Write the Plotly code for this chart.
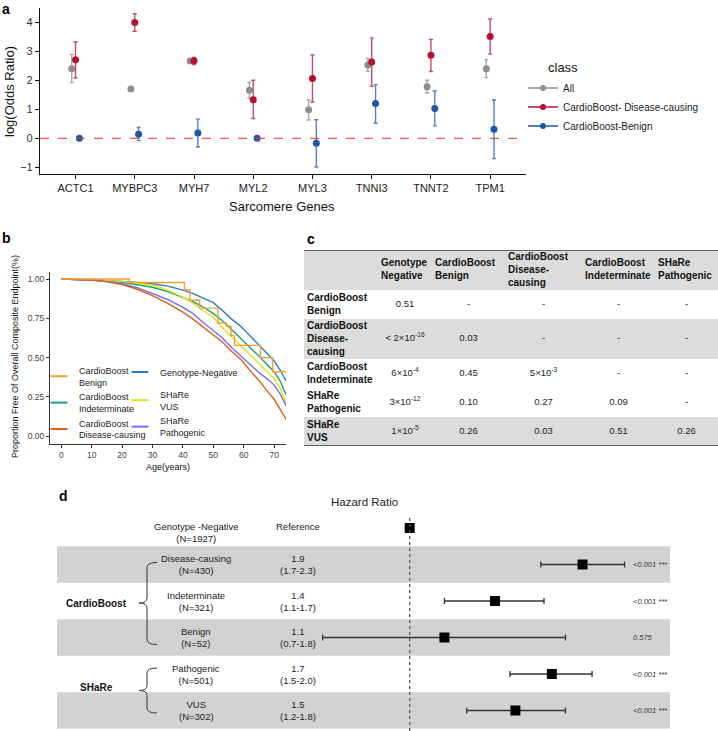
import plotly.graph_objects as go

W, H = 718, 731


def px(x):
    return x / W


def py(y):
    return 1 - y / H


FONT = "Liberation Sans, Arial, Helvetica, sans-serif"

# ======================= DATA =======================
# ---- Panel a: log(odds ratio) per sarcomere gene ----
genes = ["ACTC1", "MYBPC3", "MYH7", "MYL2", "MYL3", "TNNI3", "TNNT2", "TPM1"]
class_names = ["All", "CardioBoost- Disease-causing", "CardioBoost-Benign"]
or_all = [2.40, 1.70, 2.66, 1.66, 0.98, 2.53, 1.78, 2.40]
or_all_lo = [1.92, 1.65, 2.61, 1.38, 0.63, 2.31, 1.56, 2.09]
or_all_hi = [2.89, 1.75, 2.71, 1.93, 1.33, 2.75, 2.00, 2.71]
or_dc = [2.71, 3.99, 2.67, 1.33, 2.06, 2.63, 2.86, 3.51]
or_dc_lo = [2.08, 3.69, 2.54, 0.68, 1.25, 1.79, 2.30, 2.90]
or_dc_hi = [3.32, 4.29, 2.79, 2.00, 2.87, 3.46, 3.41, 4.11]
or_bn = [0.00, 0.14, 0.18, 0.00, -0.17, 1.20, 1.03, 0.31]
or_bn_lo = [0.00, -0.08, -0.29, 0.00, -0.99, 0.52, 0.43, -0.70]
or_bn_hi = [0.00, 0.37, 0.66, 0.00, 0.64, 1.85, 1.63, 1.32]
or_ticks = [-1, 0, 1, 2, 3, 4]

# ---- Panel b: Kaplan-Meier curves ----
km_labels = ["CardioBoost<br>Benign", "CardioBoost<br>Indeterminate", "CardioBoost<br>Disease-causing",
             "Genotype-Negative", "SHaRe<br>VUS", "SHaRe<br>Pathogenic"]
benign_age = [0, 22.4, 40.5, 42.3, 45.5, 51.5, 54.3, 55.8, 57.0, 65.5, 69.5, 74]
benign_surv = [1.0, 0.978, 0.932, 0.865, 0.815, 0.72, 0.70, 0.64, 0.578, 0.50, 0.41, 0.41]
age_grid = [0, 5, 10, 15, 20, 25, 30, 35, 40, 43, 46, 50, 53, 56, 59, 62, 65, 68, 70, 72, 74]
surv_neg = [1.0, 0.998, 0.995, 0.99, 0.985, 0.978, 0.97, 0.955, 0.93, 0.91, 0.885, 0.85, 0.80,
            0.745, 0.70, 0.64, 0.585, 0.52, 0.48, 0.42, 0.35]
surv_indet = [1.0, 0.998, 0.995, 0.99, 0.98, 0.965, 0.948, 0.92, 0.885, 0.86, 0.83, 0.78, 0.735,
              0.68, 0.62, 0.565, 0.51, 0.45, 0.41, 0.35, 0.26]
surv_vus = [1.0, 0.998, 0.995, 0.99, 0.985, 0.975, 0.962, 0.93, 0.885, 0.85, 0.81, 0.755, 0.69,
            0.63, 0.575, 0.52, 0.465, 0.405, 0.365, 0.305, 0.21]
surv_path = [1.0, 0.998, 0.994, 0.985, 0.97, 0.945, 0.91, 0.87, 0.82, 0.785, 0.735, 0.675, 0.625,
             0.565, 0.51, 0.46, 0.405, 0.36, 0.325, 0.27, 0.19]
surv_dc = [1.0, 0.998, 0.993, 0.982, 0.965, 0.935, 0.895, 0.845, 0.79, 0.75, 0.705, 0.65, 0.60,
           0.54, 0.49, 0.42, 0.355, 0.28, 0.235, 0.17, 0.105]
km_age_ticks = [0, 10, 20, 30, 40, 50, 60, 70]
km_surv_ticks = [0.0, 0.25, 0.5, 0.75, 1.0]

# ---- Panel c: pairwise p-values table ----
tbl_header = ["", "Genotype<br>Negative", "CardioBoost<br>Benign", "CardioBoost<br>Disease-<br>causing",
              "CardioBoost<br>Indeterminate", "SHaRe<br>Pathogenic"]
tbl_rows = ["CardioBoost<br>Benign", "CardioBoost<br>Disease-<br>causing", "CardioBoost<br>Indeterminate",
            "SHaRe<br>Pathogenic", "SHaRe<br>VUS"]
tbl_values = [
    ["0.51", "&lt; 2×10<sup>-16</sup>", "6×10<sup>-4</sup>", "3×10<sup>-12</sup>", "1×10<sup>-5</sup>"],
    ["-", "0.03", "0.45", "0.10", "0.26"],
    ["-", "-", "5×10<sup>-3</sup>", "0.27", "0.03"],
    ["-", "-", "-", "0.09", "0.51"],
    ["-", "-", "-", "-", "0.26"],
]

# ---- Panel d: hazard ratio forest plot ----
forest_groups = ["CardioBoost", "SHaRe"]
forest_levels = ["Genotype -Negative", "Disease-causing", "Indeterminate", "Benign", "Pathogenic", "VUS"]
forest_n = [1927, 430, 321, 52, 501, 302]
forest_hr = [1.0, 1.92, 1.38, 1.14, 1.71, 1.49]
forest_lo = [1.0, 1.64, 1.14, 0.72, 1.46, 1.24]
forest_hi = [1.0, 2.25, 1.66, 1.80, 1.99, 1.80]
forest_hr_text = ["Reference", "1.9<br>(1.7-2.3)", "1.4<br>(1.1-1.7)", "1.1<br>(0.7-1.8)",
                  "1.7<br>(1.5-2.0)", "1.5<br>(1.2-1.8)"]
forest_p = ["", "&lt;0.001 ***", "&lt;0.001 ***", "0.575", "&lt;0.001 ***", "&lt;0.001 ***"]

# ======================= STYLE =======================
A_COLORS = ["#8E8E8E", "#B5112F", "#1F57A8"]
A_ECOLORS = ["rgba(142,142,142,0.75)", "rgba(181,17,47,0.75)", "rgba(31,87,168,0.75)"]
A_DODGE = [-0.065, 0.0, 0.065]
KM_COLORS = ["#EEA030", "#1BA27A", "#DD5F1B", "#2B7CC0", "#E8DE1A", "#7A6BEA"]
KM_LEGEND = ["legend2", "legend2", "legend2", "legend3", "legend4", "legend4"]
TBL_COLW = [74, 54, 73, 77, 73, 63]
TBL_ROW_FILL = ["#FFFFFF", "#DCDCDC", "#FFFFFF", "#FFFFFF", "#DCDCDC"]
TBL_HDR_FILL = "#DCDCDC"
BAND_FILL = "#D2D2D2"

fig = go.Figure()

# ======================= PANEL a =======================
gene_pos = list(range(1, len(genes) + 1))
a_series = [(or_all, or_all_lo, or_all_hi), (or_dc, or_dc_lo, or_dc_hi), (or_bn, or_bn_lo, or_bn_hi)]
for k, (est, lo, hi) in enumerate(a_series):
    fig.add_trace(go.Scatter(
        x=[p + A_DODGE[k] for p in gene_pos], y=est, mode="markers",
        marker=dict(color=A_COLORS[k], size=7),
        error_y=dict(type="data", symmetric=False,
                     array=[h - e for h, e in zip(hi, est)],
                     arrayminus=[e - l for e, l in zip(est, lo)],
                     color=A_ECOLORS[k], thickness=1.4, width=2),
        xaxis="x", yaxis="y", showlegend=False, hoverinfo="skip"))
for k, name in enumerate(class_names):
    fig.add_trace(go.Scatter(
        x=[None], y=[None], mode="lines+markers", name=name,
        line=dict(color=A_COLORS[k], width=1.4), marker=dict(color=A_COLORS[k], size=6),
        xaxis="x", yaxis="y", legend="legend", showlegend=True))

# ======================= PANEL b =======================
km_data = [(benign_age, benign_surv, "hv"), (age_grid, surv_indet, "linear"), (age_grid, surv_dc, "linear"),
           (age_grid, surv_neg, "linear"), (age_grid, surv_vus, "linear"), (age_grid, surv_path, "linear")]
draw_order = [3, 1, 4, 5, 2, 0]
for k in draw_order:
    ages, surv, shape = km_data[k]
    fig.add_trace(go.Scatter(
        x=ages, y=surv, mode="lines", line=dict(color=KM_COLORS[k], width=1.4, shape=shape),
        xaxis="x2", yaxis="y2", showlegend=False, hoverinfo="skip"))
for k, lab in enumerate(km_labels):
    fig.add_trace(go.Scatter(
        x=[None], y=[None], mode="markers", name=lab,
        marker=dict(symbol="line-ew", size=12, color=KM_COLORS[k], line=dict(color=KM_COLORS[k], width=2)),
        xaxis="x2", yaxis="y2", legend=KM_LEGEND[k], showlegend=True))

# ======================= PANEL c (table) =======================
def n_lines(s):
    return s.count("<br>") + 1

hdr_h = 7 + 11 * max(n_lines(h) for h in tbl_header)
row_h = []
for r in range(len(tbl_rows)):
    cells = [tbl_rows[r]] + [col[r] for col in tbl_values]
    row_h.append(7 + 11 * max(n_lines(c) for c in cells))
bounds = [0, hdr_h]
for h in row_h:
    bounds.append(bounds[-1] + h)
total_h = bounds[-1]
row_center = [(bounds[i + 1] + bounds[i + 2]) / 2 for i in range(len(tbl_rows))]
hdr_center = hdr_h / 2
col_left = [sum(TBL_COLW[:i]) for i in range(len(TBL_COLW))]
col_center = [col_left[i] + TBL_COLW[i] / 2 for i in range(len(TBL_COLW))]
TBL_TOP = 250
TXT_PAD = 3

fig.add_trace(go.Scatter(
    x=[col_left[i] + TXT_PAD for i in range(1, len(tbl_header))], y=[hdr_center] * (len(tbl_header) - 1),
    text=[f"<b>{h}</b>" for h in tbl_header[1:]], mode="text", textposition="middle right",
    marker=dict(size=1), textfont=dict(size=10, color="#111"), xaxis="x4", yaxis="y4",
    showlegend=False, hoverinfo="skip"))
fig.add_trace(go.Scatter(
    x=[TXT_PAD] * len(tbl_rows), y=row_center, text=[f"<b>{r}</b>" for r in tbl_rows],
    mode="text", textposition="middle right", marker=dict(size=1), textfont=dict(size=10, color="#111"),
    xaxis="x4", yaxis="y4", showlegend=False, hoverinfo="skip"))
vx, vy, vt = [], [], []
for c, col in enumerate(tbl_values):
    for r, v in enumerate(col):
        vx.append(col_center[c + 1])
        vy.append(row_center[r])
        vt.append(v)
fig.add_trace(go.Scatter(
    x=vx, y=vy, text=vt, mode="text", textposition="middle center", marker=dict(size=1),
    textfont=dict(size=9.5, color="#222"), xaxis="x4", yaxis="y4", showlegend=False, hoverinfo="skip"))

shapes = []
shapes.append(dict(type="rect", xref="x4", yref="y4", x0=0, x1=sum(TBL_COLW), y0=0, y1=hdr_h,
                   fillcolor=TBL_HDR_FILL, line=dict(width=0), layer="below"))
for r, fc in enumerate(TBL_ROW_FILL):
    if fc != "#FFFFFF":
        shapes.append(dict(type="rect", xref="x4", yref="y4", x0=0, x1=sum(TBL_COLW),
                           y0=bounds[r + 1], y1=bounds[r + 2], fillcolor=fc, line=dict(width=0), layer="below"))
for yb in (0, total_h):
    shapes.append(dict(type="line", xref="x4", yref="y4", x0=0, x1=sum(TBL_COLW), y0=yb, y1=yb,
                       line=dict(color="#3A3A3A", width=1.5)))

# ======================= PANEL d (forest) =======================
forest_rows = list(range(len(forest_levels)))
fig.add_trace(go.Scatter(
    x=forest_hr[1:], y=forest_rows[1:], mode="markers",
    marker=dict(symbol="square", size=10, color="black"),
    error_x=dict(type="data", symmetric=False,
                 array=[h - e for h, e in zip(forest_hi[1:], forest_hr[1:])],
                 arrayminus=[e - l for e, l in zip(forest_hr[1:], forest_lo[1:])],
                 color="#333", thickness=1.3, width=3),
    xaxis="x3", yaxis="y3", showlegend=False, hoverinfo="skip"))
fig.add_trace(go.Scatter(
    x=forest_hr[:1], y=forest_rows[:1], mode="markers",
    marker=dict(symbol="square", size=10, color="black"),
    xaxis="x3", yaxis="y3", showlegend=False, hoverinfo="skip"))

for r in forest_rows:
    if r % 2 == 1:
        shapes.append(dict(type="rect", xref="x3 domain", yref="y3", x0=0, x1=1, y0=r - 0.5, y1=r + 0.5,
                           fillcolor=BAND_FILL, line=dict(width=0), layer="below"))
shapes.append(dict(type="line", xref="x3", yref="paper", x0=forest_hr[0], x1=forest_hr[0],
                   y0=py(731), y1=py(515), line=dict(color="#555", width=1.3, dash="dot")))


def ppath(pts):
    out = []
    for p in pts:
        if isinstance(p, str):
            out.append(p)
        else:
            out.append(f"{px(p[0]):.5f},{py(p[1]):.5f}")
    return " ".join(out)


def brace(top, mid, bot, xv=147, xr=157, xl=139):
    return ppath(["M", (xr, top), "Q", (xv, top), (xv, top + 5), "L", (xv, mid - 5), "Q", (xv, mid), (xl, mid),
                  "Q", (xv, mid), (xv, mid + 5), "L", (xv, bot - 5), "Q", (xv, bot), (xr, bot)])


shapes.append(dict(type="path", xref="paper", yref="paper", path=brace(562.5, 603, 644.5),
                   line=dict(color="#333", width=1)))
shapes.append(dict(type="path", xref="paper", yref="paper", path=brace(668, 690.5, 713),
                   line=dict(color="#333", width=1)))

# zero reference line for panel a
shapes.append(dict(type="line", xref="x domain", yref="y", x0=0, x1=1, y0=0, y1=0,
                   line=dict(color="#FF2A2A", width=1, dash="dash")))

annotations = []


def ann(text, x, y, size, color="#222", xanchor="center", yanchor="middle", yref="paper", **kw):
    d = dict(text=text, x=x, y=y, xref="paper", yref=yref, xanchor=xanchor, yanchor=yanchor,
             showarrow=False, font=dict(size=size, color=color))
    d.update(kw)
    annotations.append(d)


# forest text columns
for r in forest_rows:
    ann(f"{forest_levels[r]}<br>(N={forest_n[r]})", px(196), r, 9.5, yref="y3", align="center",
        yshift=(-4 if r == 0 else 0))
    ann(forest_hr_text[r], px(298), r, 9.5, yref="y3", align="center", yshift=(2 if r == 0 else 0))
    if forest_p[r]:
        ann(f"<i>{forest_p[r]}</i>", px(630.5), r, 7.5, color="#333", xanchor="left", yref="y3")
ann(f"<b>{forest_groups[0]}</b>", px(97), 2, 10, color="#111", yref="y3", yshift=-2)
ann(f"<b>{forest_groups[1]}</b>", px(97), 4.5, 10, color="#111", yref="y3", yshift=5)
ann("Hazard Ratio", px(364), py(502), 11.5)

# axis titles
ann("log(Odds Ratio)", px(9), py(92), 13, color="#111", textangle=-90)
ann("Sarcomere Genes", px(282), py(207), 13, color="#111")
ann("Proportion Free Of Overall Composite Endpoint(%)", px(15), py(357), 9, color="#111", textangle=-90)
ann("Age(years)", px(168), py(467), 9, color="#111")
ann("class", px(546), py(68), 13, color="#111", xanchor="left")

# panel letters
for letter, lx, ly in [("a", 0, 9), ("b", 0, 238), ("c", 305, 239), ("d", 57, 496)]:
    ann(f"<b>{letter}</b>", px(lx), py(ly), 14, color="#000", xanchor="left")

axis_common = dict(showgrid=False, zeroline=False, fixedrange=True)

fig.update_layout(
    width=W, height=H,
    margin=dict(l=0, r=0, t=0, b=0, autoexpand=False),
    paper_bgcolor="white", plot_bgcolor="white",
    font=dict(family=FONT, color="#222"),
    xaxis=dict(domain=[px(40), px(525.7)], range=[0.4, 8.6], tickmode="array", tickvals=gene_pos,
               ticktext=genes, showline=True, linecolor="#111", linewidth=1.2, ticks="outside", ticklen=4,
               tickcolor="#111", tickfont=dict(size=11, color="#222"), anchor="y", **axis_common),
    yaxis=dict(domain=[py(174), py(8)], range=[-1.23, 4.49], tickmode="array", tickvals=or_ticks,
               showline=True, linecolor="#111", linewidth=1.2, ticks="outside", ticklen=4,
               tickcolor="#111", tickfont=dict(size=11, color="#333"), anchor="x", **axis_common),
    xaxis2=dict(domain=[px(50), px(286)], range=[-3.7, 73.9], tickmode="array", tickvals=km_age_ticks,
                showline=True, linecolor="#333", linewidth=1, ticks="outside", ticklen=3,
                tickcolor="#333", tickfont=dict(size=8.5, color="#444"), anchor="y2", **axis_common),
    yaxis2=dict(domain=[py(444), py(272)], range=[-0.05, 1.045], tickmode="array", tickvals=km_surv_ticks,
                ticktext=[f"{v:.2f}" for v in km_surv_ticks], showline=True, linecolor="#333", linewidth=1,
                ticks="outside", ticklen=3, tickcolor="#333", tickfont=dict(size=8.5, color="#444"),
                anchor="x2", **axis_common),
    xaxis3=dict(domain=[px(57), px(670)], type="log", range=[-0.578, 0.4266], visible=False,
                anchor="y3", **axis_common),
    yaxis3=dict(domain=[py(728.75), py(509.75)], range=[5.5, -0.5], visible=False, anchor="x3",
                **axis_common),
    xaxis4=dict(domain=[px(304), 1.0], range=[0, sum(TBL_COLW)], visible=False, anchor="y4", **axis_common),
    yaxis4=dict(domain=[py(TBL_TOP + total_h), py(TBL_TOP)], range=[total_h, 0], visible=False,
                anchor="x4", **axis_common),
    legend=dict(x=px(523), y=py(73.5), xanchor="left", yanchor="top", font=dict(size=10, color="#222"),
                bgcolor="rgba(0,0,0,0)", tracegroupgap=0),
    legend2=dict(x=px(39), y=py(358), xanchor="left", yanchor="top", font=dict(size=9, color="#222"),
                 bgcolor="rgba(0,0,0,0)", tracegroupgap=0),
    legend3=dict(x=px(120), y=py(372), xanchor="left", yanchor="middle", font=dict(size=9, color="#222"),
                 bgcolor="rgba(0,0,0,0)"),
    legend4=dict(x=px(120), y=py(382), xanchor="left", yanchor="top", font=dict(size=9, color="#222"),
                 bgcolor="rgba(0,0,0,0)", tracegroupgap=0),
    shapes=shapes,
    annotations=annotations,
)

fig.write_html("out.html", config={"displayModeBar": False},
               post_script="document.body.style.margin='0px';")
